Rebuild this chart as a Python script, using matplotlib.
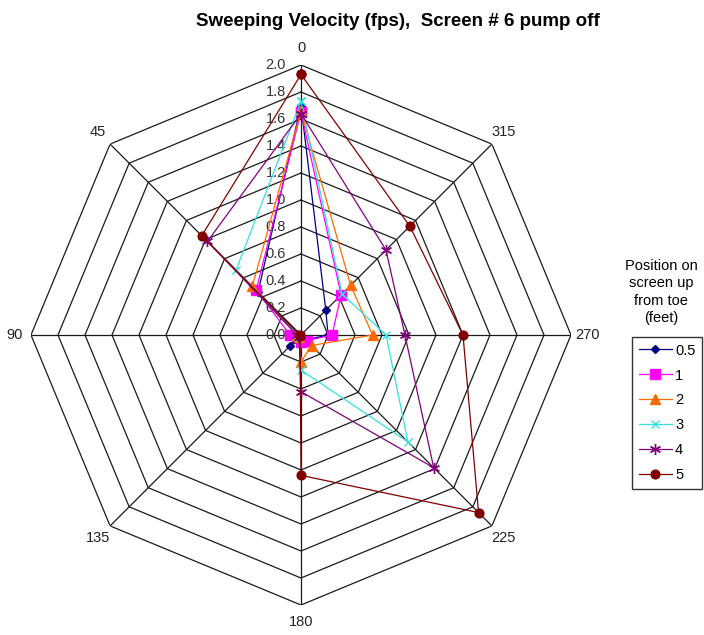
import numpy as np
import matplotlib
matplotlib.use("Agg")
import matplotlib.pyplot as plt

plt.rcParams['font.family'] = ['Liberation Sans', 'DejaVu Sans']

# 方位类别（顺时针，从顶部开始）
categories = ['0', '315', '270', '225', '180', '135', '90', '45']
series_names = ['0.5', '1', '2', '3', '4', '5']

# 各高度位置的扫掠速度 (fps)
v_05 = [1.70, 0.26, 0.20, 0.05, 0.04, 0.11, 0.03, 0.45]
v_1 = [1.65, 0.42, 0.23, 0.06, 0.05, 0.02, 0.08, 0.47]
v_2 = [1.66, 0.52, 0.53, 0.11, 0.20, 0.02, 0.03, 0.51]
v_3 = [1.73, 0.43, 0.63, 1.12, 0.26, 0.02, 0.03, 0.68]
v_4 = [1.64, 0.89, 0.77, 1.39, 0.42, 0.02, 0.03, 0.98]
v_5 = [1.93, 1.14, 1.20, 1.86, 1.04, 0.01, 0.01, 1.04]

r_ticks = [0.0, 0.2, 0.4, 0.6, 0.8, 1.0, 1.2, 1.4, 1.6, 1.8, 2.0]

colors = ['#000080', '#FF00FF', '#FF6A00', '#33E0E0', '#800080', '#800000']
markers = ['D', 's', '^', 'x', (6, 2, 0), 'o']
msizes = [4.5, 6.5, 6.5, 6, 8, 6.3]

W, H = 704, 635
fig = plt.figure(figsize=(W / 100, H / 100), dpi=100)
fig.patch.set_facecolor('white')

# 极坐标轴：中心 (301, 335)，半径 270 像素
cx, cy, R = 301, 335, 270
ax = fig.add_axes([(cx - R) / W, (H - cy - R) / H, 2 * R / W, 2 * R / H],
                  projection='polar')
ax.set_theta_zero_location('N')
ax.set_theta_direction(-1)
ax.set_ylim(0, 2.0)
ax.grid(False)
ax.set_xticks([])
ax.set_yticks([])
ax.spines['polar'].set_visible(False)
ax.patch.set_alpha(0)

theta = np.deg2rad(np.arange(len(categories)) * 45.0)
theta_c = np.append(theta, theta[0])

# 八边形网格线
for r in r_ticks[1:]:
    ax.plot(theta_c, [r] * len(theta_c), color='#1a1a1a', lw=0.9, zorder=1)
for t in theta:
    ax.plot([t, t], [0, 2.0], color='#1a1a1a', lw=0.9, zorder=1)

# 径向刻度标签
for r in r_ticks:
    ax.annotate("%.1f" % r, xy=(0, r), xytext=(-15, 0), textcoords='offset pixels',
                ha='right', va='center', fontsize=10.5, color='#333333', zorder=2)

# 方位标签
for t, c in zip(theta, categories):
    ax.text(t, 2.125, c, ha='center', va='center', fontsize=10.5,
            color='#222222', clip_on=False)

# 数据系列
all_vals = [v_05, v_1, v_2, v_3, v_4, v_5]
handles = []
for vals, name, col, mk, ms in zip(all_vals, series_names, colors, markers, msizes):
    vv = np.append(vals, vals[0])
    ln, = ax.plot(theta_c, vv, color=col, lw=0.9, marker=mk, markersize=ms,
                  markerfacecolor=col, markeredgecolor=col, markeredgewidth=1.0,
                  label=name, zorder=3, clip_on=False)
    handles.append(ln)

fig.text(398 / W, 1 - 21 / H, "Sweeping Velocity (fps),  Screen # 6 pump off",
         ha='center', va='center', fontsize=13.5, fontweight='bold')

# 图例标题（在框外）
fig.text(661 / W, 1 - 292 / H, "Position on\nscreen up\nfrom toe\n(feet)",
         ha='center', va='center', fontsize=10.5, linespacing=1.3)

leg = fig.legend(handles, series_names, loc='upper left',
                 bbox_to_anchor=(632 / W, 1 - 337 / H), frameon=True,
                 fancybox=False, edgecolor='black', fontsize=10.5,
                 handlelength=2.3, handletextpad=0.2, labelspacing=0.75,
                 borderpad=0.45, borderaxespad=0)
leg.get_frame().set_linewidth(1.0)

fig.savefig('out.png', dpi=100, facecolor='white')
